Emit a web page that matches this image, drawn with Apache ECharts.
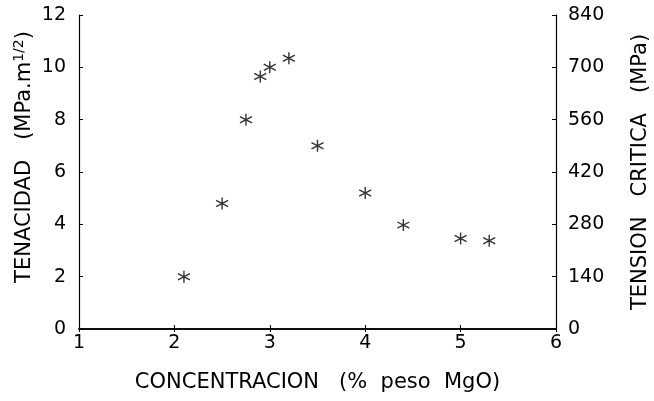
<!DOCTYPE html>
<html>
<head>
<meta charset="utf-8">
<script src="https://cdn.jsdelivr.net/npm/echarts@6/dist/echarts.min.js"></script>
<style>
  body { margin: 0; background: #fff; }
  #chart { width: 654px; height: 401px; }
</style>
</head>
<body>
<div id="chart"></div>
<script>
// concentracion (% peso MgO) y tenacidad (MPa.m^1/2)
var concentracion = [2.1, 2.5, 2.75, 2.9, 3.0, 3.2, 3.5, 4.0, 4.4, 5.0, 5.3];
var tenacidad = [2.0, 4.8, 8.0, 9.65, 10.0, 10.35, 7.0, 5.2, 3.97, 3.46, 3.37];

var xTicks = [1, 2, 3, 4, 5, 6];
var leftTicks = [0, 2, 4, 6, 8, 10, 12];
var rightTicks = [0, 140, 280, 420, 560, 700, 840];

var font = 'DejaVu Sans';
var asterisco = 'path://M0,-5L0,5M-4.4,-2.6L4.4,2.6M-4.4,2.6L4.4,-2.6';

var puntos = concentracion.map(function (c, i) { return [c, tenacidad[i]]; });

var chart = echarts.init(document.getElementById('chart'));
chart.setOption({
  animation: false,
  grid: { left: 79, right: 98, top: 15, bottom: 72, outerBoundsMode: 'none' },
  xAxis: [{
    type: 'value', min: xTicks[0], max: xTicks[xTicks.length - 1], interval: 1,
    name: 'CONCENTRACION   (%  peso  MgO)', nameLocation: 'middle', nameGap: 43, nameMoveOverlap: false,
    nameTextStyle: { fontFamily: font, fontSize: 21, color: '#000' },
    axisLine: { lineStyle: { color: '#000', width: 1.6 } },
    axisTick: { inside: true, length: 4, lineStyle: { color: '#000' } },
    axisLabel: { fontFamily: font, fontSize: 19, color: '#000', margin: 5 },
    splitLine: { show: false }
  }, {
    type: 'value', position: 'top', min: 1, max: 6, interval: 1,
    axisLine: { show: true, lineStyle: { color: '#000', width: 1.5 } },
    axisTick: { inside: true, length: 3, lineStyle: { color: '#000' } },
    axisLabel: { show: false }, splitLine: { show: false }
  }],
  yAxis: [{
    type: 'value', min: leftTicks[0], max: leftTicks[leftTicks.length - 1], interval: 2,
    name: '{n|TENACIDAD   (MPa.m}{s|1/2}{n|)}', nameLocation: 'middle', nameGap: 41, nameMoveOverlap: false,
    nameTextStyle: {
      padding: [0, 0, 0, 30],
      rich: {
        n: { fontFamily: font, fontSize: 21, color: '#000' },
        s: { fontFamily: font, fontSize: 14, color: '#000', verticalAlign: 'top', padding: [0, 0, 12, 0] }
      }
    },
    axisLine: { show: true, lineStyle: { color: '#000', width: 1.2 } },
    axisTick: { show: true, inside: true, length: 4, lineStyle: { color: '#000' } },
    axisLabel: { fontFamily: font, fontSize: 19, color: '#000', margin: 13 },
    splitLine: { show: false }
  }, {
    type: 'value', position: 'right', min: rightTicks[0], max: rightTicks[rightTicks.length - 1], interval: 140,
    name: 'TENSION   CRITICA   (MPa)', nameLocation: 'middle', nameGap: 74, nameRotate: 90, nameMoveOverlap: false,
    nameTextStyle: { fontFamily: font, fontSize: 21, color: '#000' },
    axisLine: { show: true, lineStyle: { color: '#000', width: 1.2 } },
    axisTick: { show: true, inside: true, length: 4, lineStyle: { color: '#000' } },
    axisLabel: { fontFamily: font, fontSize: 19, color: '#000', margin: 12 },
    splitLine: { show: false }
  }],
  series: [{
    type: 'scatter',
    data: puntos,
    symbol: asterisco,
    symbolSize: 12,
    itemStyle: { color: 'rgba(0,0,0,0)', borderColor: '#000', borderWidth: 1.4 }
  }]
});
</script>
</body>
</html>
